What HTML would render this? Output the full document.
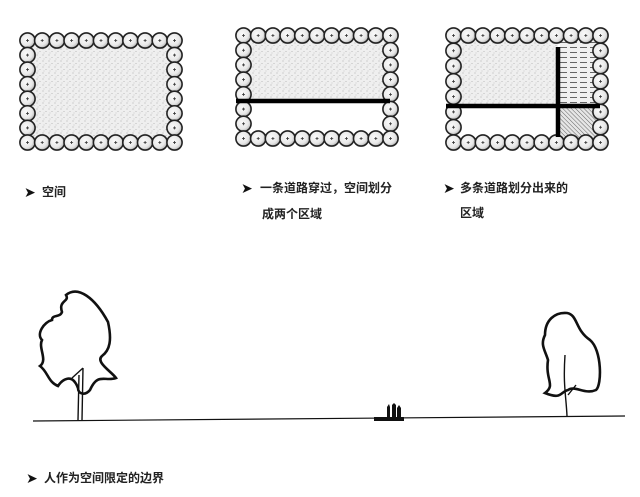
<!DOCTYPE html>
<html><head><meta charset="utf-8">
<style>
html,body{margin:0;padding:0;background:#fff;}
body{width:640px;height:497px;position:relative;overflow:hidden;font-family:"Liberation Sans","Noto Sans CJK SC",sans-serif;}
.t{position:absolute;font-size:12px;color:#222;font-weight:bold;white-space:nowrap;line-height:14px;}
.a{position:absolute;font-size:14px;color:#111;line-height:14px;}
</style></head><body>
<svg id="s" width="640" height="497" style="position:absolute;left:0;top:0">
<defs>
<pattern id="dots" width="6" height="6" patternUnits="userSpaceOnUse">
<rect width="6" height="6" fill="#efefef"/>
<circle cx="1" cy="1" r="0.5" fill="#999"/><circle cx="4" cy="3.5" r="0.5" fill="#aaa"/><circle cx="2" cy="5" r="0.4" fill="#999"/>
</pattern>
<pattern id="lines" width="10" height="5" patternUnits="userSpaceOnUse">
<rect width="10" height="5" fill="#f0f0f0"/><line x1="0" y1="2.5" x2="7" y2="2.5" stroke="#555" stroke-width="0.9"/>
</pattern>
<pattern id="hatch" width="3" height="3" patternUnits="userSpaceOnUse" patternTransform="rotate(-45)">
<rect width="3" height="3" fill="#e6e6e6"/><line x1="0" y1="0" x2="0" y2="3" stroke="#555" stroke-width="0.9"/>
</pattern>
<radialGradient id="cg" cx="0.4" cy="0.4" r="0.6">
<stop offset="0" stop-color="#fafafa"/><stop offset="0.7" stop-color="#e8e8e8"/><stop offset="1" stop-color="#bbb"/>
</radialGradient>
</defs>
<rect x="28" y="40" width="146" height="102" fill="url(#dots)"/>
<rect x="244" y="35" width="146" height="66" fill="url(#dots)"/>
<rect x="454" y="35" width="104" height="71" fill="url(#dots)"/>
<rect x="560" y="35" width="40" height="71" fill="url(#lines)"/>
<rect x="560" y="108" width="40" height="36" fill="url(#hatch)"/>
<g id="c"></g>
<line x1="236" y1="101" x2="390" y2="101" stroke="#000" stroke-width="4.5"/>
<line x1="446" y1="106" x2="600" y2="106" stroke="#000" stroke-width="4.5"/>
<line x1="558" y1="47" x2="558" y2="137" stroke="#000" stroke-width="4.5"/>
<!-- ground -->
<line x1="33" y1="421" x2="625" y2="416" stroke="#111" stroke-width="1.2"/>
<rect x="374" y="417" width="30" height="4" fill="#111"/>
<path d="M387 417 l0 -10 l2 -3 l1 3 l0 10z M392 417 l0 -12 l2 -2 l2 2 l0 12z M397 417 l0 -9 l2 -3 l2 3 l0 9z" fill="#111"/>
<!-- left tree -->
<path d="M78 420 L79 375 M82 420 L83 368 M83 368 L72 378" stroke="#111" stroke-width="1.4" fill="none"/>
<path d="M62 312 C58 300 70 302 66 295 C78 285 95 298 108 322 C112 340 110 350 102 356 C95 362 112 372 116 378 C105 382 98 372 90 390 C85 396 78 394 78 388 C72 372 62 380 58 386 C48 382 48 372 40 366 C48 360 38 348 42 340 C36 334 44 322 52 320 C52 314 60 318 62 312Z" fill="none" stroke="#111" stroke-width="2.6"/>
<!-- right tree -->
<path d="M567 416 C566 395 563 385 565 355 M568 395 L576 385" stroke="#111" stroke-width="1.4" fill="none"/>
<path d="M545 335 C545 320 555 312 567 313 C578 315 575 330 590 340 C602 350 602 385 596 390 C585 395 575 385 568 390 C560 392 562 400 545 393 C556 385 545 380 548 360 C545 350 540 345 545 335Z" fill="none" stroke="#111" stroke-width="2.6"/>
</svg>
<div class="a" style="left:24px;top:185px">➤</div><div class="t" style="left:42px;top:185px">空间</div>
<div class="a" style="left:241px;top:181px">➤</div><div class="t" style="left:260px;top:181px">一条道路穿过，空间划分</div>
<div class="t" style="left:262px;top:207px">成两个区域</div>
<div class="a" style="left:443px;top:181px">➤</div><div class="t" style="left:460px;top:181px">多条道路划分出来的</div>
<div class="t" style="left:460px;top:206px">区域</div>
<div class="a" style="left:26px;top:471px">➤</div><div class="t" style="left:44px;top:471px">人作为空间限定的边界</div>
<script>
var g=document.getElementById('c'),h='';
function box(x0,y0,w,hh){
 var nx=11,ny=8,dx=(w-15)/(nx-1),dy=(hh-15)/(ny-1),r=7.6;
 for(var i=0;i<nx;i++)for(var j=0;j<ny;j++){
  if(i>0&&i<nx-1&&j>0&&j<ny-1)continue;
  var cx=x0+7.5+i*dx,cy=y0+7.5+j*dy;
  h+='<circle cx="'+cx+'" cy="'+cy+'" r="'+r+'" fill="url(#cg)" stroke="#222" stroke-width="1.6"/>';
  h+='<path d="M'+(cx-1.5)+' '+cy+'h3M'+cx+' '+(cy-1.5)+'v3" stroke="#333" stroke-width="0.8"/>';
 }
}
box(20,33,162,117);box(236,28,162,118);box(446,28,162,122);
g.innerHTML=h;
</script>
</body></html>
